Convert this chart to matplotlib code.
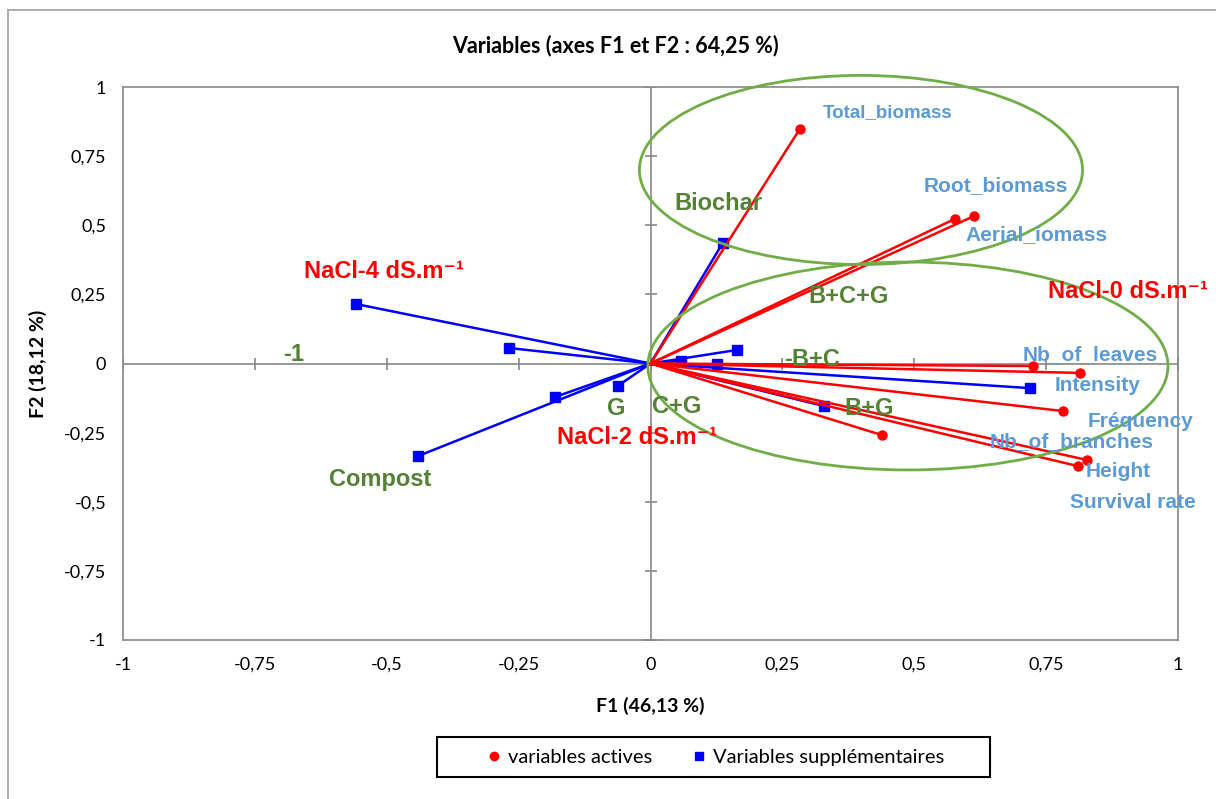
import matplotlib
matplotlib.use("Agg")
import matplotlib.pyplot as plt
from matplotlib.patches import Ellipse, Rectangle
from matplotlib.lines import Line2D

# active variables (red circles)
act_names = ['Total_biomass', 'Root_biomass', 'Aerial_iomass', 'Nb_of_leaves', 'Intensity',
             'Fréquency', 'Nb_of_branches', 'Height', 'Survival rate']
act_x = [0.283, 0.577, 0.613, 0.725, 0.814, 0.782, 0.439, 0.828, 0.810]
act_y = [0.848, 0.523, 0.533, -0.009, -0.034, -0.172, -0.259, -0.349, -0.371]

# supplementary variables (blue squares)
sup_x = [0.137, -0.558, -0.268, -0.181, -0.441, -0.062, 0.164, 0.126, 0.058, 0.719, 0.329]
sup_y = [0.436, 0.215, 0.056, -0.121, -0.335, -0.081, 0.049, 0.000, 0.010, -0.089, -0.154]

# label text as drawn on the chart
blue_lbl = act_names
blue_pos = [(0.449, 0.909), (0.655, 0.645), (0.731, 0.465), (0.833, 0.034), (0.847, -0.081),
            (0.928, -0.208), (0.799, -0.284), (0.886, -0.392), (0.915, -0.504)]
blue_fs = [13.5, 15, 15, 15, 15, 15, 15, 15, 15]

green_lbl = ['Biochar', 'B+C+G', '-B+C', 'B+G', 'C+G', 'G', 'Compost', '-1']
green_pos = [(0.128, 0.577), (0.376, 0.244), (0.306, 0.013), (0.414, -0.161), (0.050, -0.154),
             (-0.065, -0.161), (-0.513, -0.421), (-0.676, 0.031)]

red_lbl = ['NaCl-4 dS.m⁻¹', 'NaCl-2 dS.m⁻¹', 'NaCl-0 dS.m⁻¹']
red_pos = [(-0.505, 0.331), (-0.026, -0.266), (0.905, 0.262)]

ticks = [-1, -0.75, -0.5, -0.25, 0, 0.25, 0.5, 0.75, 1]
tick_lbl = ['-1', '-0,75', '-0,5', '-0,25', '0', '0,25', '0,5', '0,75', '1']

GRAY = '#888888'
UI = ['Lato', 'DejaVu Sans']
ARIAL = ['Liberation Sans', 'DejaVu Sans']
fig = plt.figure(figsize=(12.16, 7.99), dpi=100)
ax = fig.add_axes([123/1216, 1-640/799, 1055/1216, 553/799])
ax.set_xlim(-1, 1)
ax.set_ylim(-1, 1)

# outer chart border
fig.add_artist(Line2D([8/1216, 8/1216], [0, 1-10/799], color='#a0a0a0', lw=1.2))
fig.add_artist(Line2D([8/1216, 1], [1-10/799, 1-10/799], color='#a0a0a0', lw=1.2))

for s in ax.spines.values():
    s.set_color(GRAY)
    s.set_linewidth(1.2)

ax.axhline(0, color=GRAY, lw=1.2, zorder=1)
ax.axvline(0, color=GRAY, lw=1.2, zorder=1)
ax.plot(ticks, [0]*len(ticks), ls='none', marker='|', ms=8, mew=1.2, color=GRAY, zorder=1)
ax.plot([0]*len(ticks), ticks, ls='none', marker='_', ms=8, mew=1.2, color=GRAY, zorder=1)

ax.set_xticks(ticks)
ax.set_xticklabels(tick_lbl)
ax.set_yticks(ticks)
ax.set_yticklabels(tick_lbl)
ax.tick_params(length=0, labelsize=13, pad=12)
for t in ax.get_xticklabels() + ax.get_yticklabels():
    t.set_family(UI)

ax.set_xlabel('F1 (46,13 %)', fontsize=14, fontweight='bold', family=UI)
ax.set_ylabel('F2 (18,12 %)', fontsize=14, fontweight='bold', family=UI)
ax.xaxis.set_label_coords(0.5, (640-697)/553)
ax.yaxis.set_label_coords((47-123)/1055, 0.5)

fig.text(615/1216, 1-46/799, 'Variables (axes F1 et F2 : 64,25 %)', ha='center', va='center',
         fontsize=15.5, fontweight='bold', family=UI)

# vectors
for x, y in zip(sup_x, sup_y):
    ax.plot([0, x], [0, y], color='#0000FF', lw=1.8, zorder=3)
ax.plot(sup_x, sup_y, ls='none', marker='s', ms=6.5, color='#0000FF', zorder=4)
for x, y in zip(act_x, act_y):
    ax.plot([0, x], [0, y], color='#FF0000', lw=1.8, zorder=5)
ax.plot(act_x, act_y, ls='none', marker='o', ms=6.5, color='#FF0000', zorder=6)

# group ellipses
ax.add_patch(Ellipse((0.399, 0.700), 0.840, 0.684, fill=False, edgecolor='#70AD47', lw=2,
                     clip_on=False, zorder=7))
ax.add_patch(Ellipse((0.488, -0.009), 0.986, 0.752, fill=False, edgecolor='#70AD47', lw=2,
                     clip_on=False, zorder=7))

for t, (x, y), fs in zip(blue_lbl, blue_pos, blue_fs):
    ax.text(x, y, t, color='#5B9BD5', fontsize=fs, fontweight='bold', ha='center', va='center',
            family=ARIAL, zorder=8, clip_on=False)
for t, (x, y) in zip(green_lbl, green_pos):
    ax.text(x, y, t, color='#548235', fontsize=17, fontweight='bold', ha='center', va='center',
            family=ARIAL, zorder=8, clip_on=False)
for t, (x, y) in zip(red_lbl, red_pos):
    ax.text(x, y, t, color='#FF0000', fontsize=17, fontweight='bold', ha='center', va='center',
            family=ARIAL, zorder=8, clip_on=False)

# legend with a hand-sized frame
fig.add_artist(Rectangle((437/1216, 1-777/799), 553/1216, 40/799, transform=fig.transFigure,
                         fill=False, edgecolor='black', lw=1.5))
h1 = Line2D([], [], ls='none', marker='o', ms=6, color='#FF0000', label='variables actives')
h2 = Line2D([], [], ls='none', marker='s', ms=6, color='#0000FF', label='Variables supplémentaires')
fig.legend(handles=[h1, h2], loc='center', bbox_to_anchor=(716/1216, 1-757/799), ncol=2,
           frameon=False, handlelength=0.6, handletextpad=0.4, columnspacing=2.0,
           prop={'family': UI, 'size': 14.5})

fig.savefig('out.png', dpi=100)
